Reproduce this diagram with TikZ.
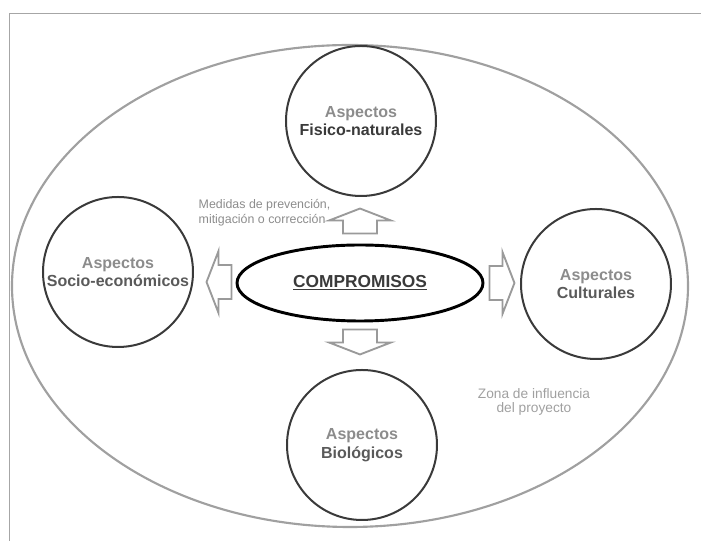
\documentclass[tikz,border=0pt]{standalone}
\usepackage{fontspec}
\setmainfont{Liberation Sans}
\usetikzlibrary{positioning,calc,shapes.geometric}

\definecolor{circgray}{HTML}{3A3A3A}
\definecolor{zonegray}{HTML}{A0A0A0}
\definecolor{arrgray}{HTML}{9A9A9A}
\definecolor{lightlabel}{HTML}{8C8C8C}
\definecolor{darklabel}{HTML}{5A5A5A}

\tikzset{
  pics/fatarrow/.style={code={
    \draw[draw=arrgray,fill=white,line width=1.4pt,line join=miter]
      (0,-17) -- (13,-17) -- (13,-31) -- (25,0) -- (13,31) -- (13,17) -- (0,17) -- cycle;
  }}
}

\begin{document}
\begin{tikzpicture}[x=0.75pt,y=0.75pt,
  aspecto/.style={circle,draw=circgray,line width=1.5pt,minimum size=112.5pt,inner sep=0pt,
    align=center,font=\fontsize{12}{14}\selectfont\bfseries},
  note/.style={text=lightlabel,font=\fontsize{9.3}{11}\selectfont}]

\useasboundingbox (-360,-258) rectangle (341,283);

% frame
\draw[draw=gray!70,line width=0.6pt] (-351,-258) -- (-351,270) -- (341,270);

% zone and centre
\node[ellipse,draw=zonegray,line width=1.6pt,minimum width=507pt,minimum height=361.5pt,name=zona] at (-10,-3) {};
\node[ellipse,draw=black,line width=2.2pt,minimum width=184.5pt,minimum height=57pt,inner sep=0pt,name=comp,
  font=\fontsize{13}{15}\selectfont\bfseries,text=circgray] at (0,0) {\underline{COMPROMISOS}};

% node circles
\node[aspecto,name=fisico] at (1,162) {\textcolor{lightlabel}{Aspectos}\\\textcolor{circgray}{Fisico-naturales}};
\node[aspecto,name=socio] at (-242,11) {\textcolor{lightlabel}{Aspectos}\\\textcolor{darklabel}{Socio-económicos}};
\node[aspecto,name=cultura] at (236,-1) {\textcolor{lightlabel}{Aspectos}\\\textcolor{darklabel}{Culturales}};
\node[aspecto,name=bio] at (2,-162) {\textcolor{lightlabel}{Aspectos}\\\textcolor{darklabel}{Biológicos}};

% block arrows
\pic[rotate=90] at ($(comp.north)+(0,10)$) {fatarrow};
\pic[rotate=180] at ($(comp.west)+(-4,1)$) {fatarrow};
\pic at ($(comp.east)+(5,0)$) {fatarrow};
\pic[rotate=-90] at ($(comp.south)+(0,-7)$) {fatarrow};

% labels
\node[note,align=left,anchor=west,name=medidas] at (-166,70) {Medidas de prevención,\\mitigación o corrección};
\node[note,align=center,text=zonegray,font=\fontsize{10.3}{10.5}\selectfont,name=zonalbl] at (174,-119) {Zona de influencia\\del proyecto};

\end{tikzpicture}
\end{document}
